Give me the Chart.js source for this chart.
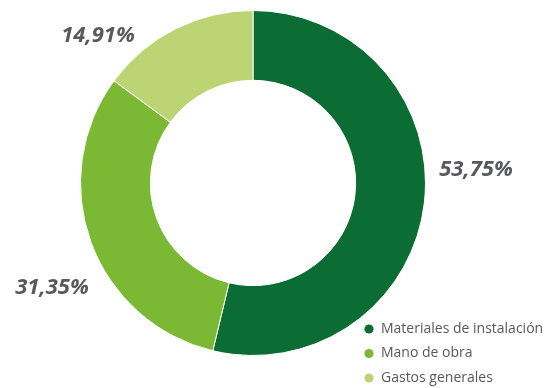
<!DOCTYPE html>
<html lang="es">
<head>
  <meta charset="UTF-8">
  <title>Distribución de costes</title>
  <script src="https://cdn.jsdelivr.net/npm/chart.js"></script>
  <style>
    html, body { margin: 0; padding: 0; background: #fff; }
    #wrap { width: 558px; height: 388px; }
  </style>
</head>
<body>
<div id="wrap"><canvas id="chartCostes"></canvas></div>

<script>
  // === Datos ===
  const categorias = ["Materiales de instalación", "Mano de obra", "Gastos generales"];
  const porcentajes = [53.75, 31.35, 14.91];
  const colores = ["#0b6d33", "#7bb833", "#bcd474"];

  // posición de cada etiqueta respecto al centro del anillo (px)
  const desplazamientos = [[223, -13], [-201, 105], [-155, -147]];

  const grisTexto = "#58595b";

  const etiquetas = {
    id: "etiquetas",
    afterDraw(chart) {
      const ctx = chart.ctx;
      const arcs = chart.getDatasetMeta(0).data;
      const cx = arcs[0].x, cy = arcs[0].y;
      ctx.save();
      // porcentajes
      ctx.fillStyle = grisTexto;
      ctx.font = "italic bold 22px 'Open Sans'";
      ctx.textAlign = "center";
      ctx.textBaseline = "middle";
      porcentajes.forEach((v, i) => {
        const txt = v.toFixed(2).replace(".", ",") + "%";
        ctx.fillText(txt, cx + desplazamientos[i][0], cy + desplazamientos[i][1]);
      });
      // leyenda
      ctx.font = "14px 'Open Sans'";
      ctx.textAlign = "left";
      categorias.forEach((c, i) => {
        const y = 329 + i * 24.5;
        ctx.fillStyle = colores[i];
        ctx.beginPath();
        ctx.arc(369, y, 4.6, 0, Math.PI * 2);
        ctx.fill();
        ctx.fillStyle = grisTexto;
        ctx.fillText(c, 381, y);
      });
      ctx.restore();
    }
  };

  new Chart(document.getElementById("chartCostes"), {
    type: "doughnut",
    data: {
      labels: categorias,
      datasets: [{
        data: porcentajes,
        backgroundColor: colores,
        borderColor: "#ffffff",
        borderWidth: 1
      }]
    },
    options: {
      responsive: true,
      maintainAspectRatio: false,
      animation: false,
      cutout: "59.5%",
      layout: { padding: { left: 80, right: 132, top: 10, bottom: 32 } },
      plugins: {
        legend: { display: false },
        tooltip: { enabled: false }
      }
    },
    plugins: [etiquetas]
  });
</script>
</body>
</html>
